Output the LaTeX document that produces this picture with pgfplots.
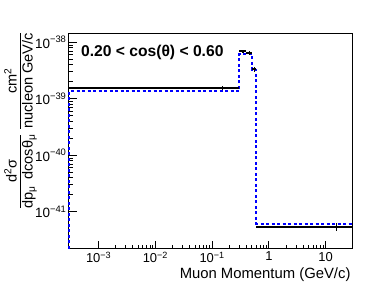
\documentclass[border=0pt]{standalone}
\usepackage{pgfplots}
\pgfplotsset{compat=1.18}
\usepackage{fontspec}
\setmainfont{Liberation Sans}
\newcommand\ffrac[2]{{\setlength{\arrayrulewidth}{1.6bp}\renewcommand{\arraystretch}{0.9}\begin{tabular}{@{}c@{}}#1\\[-1bp]\hline \rule{0pt}{11.5bp}#2\end{tabular}}}
\begin{document}
\begin{tikzpicture}
\begin{axis}[
  scale only axis,
  width=283.7bp, height=215.2bp,
  xmode=log, ymode=log,
  xmin=3e-4, xmax=30,
  ymin=2.24e-42, ymax=1.445e-38,
  clip=false,
  axis line style={line width=1bp},
  tick pos=left,
  tick align=inside,
  major tick length=8bp,
  minor tick length=4bp,
  every tick/.style={black, line width=0.8bp},
  xtick={1e-3,1e-2,1e-1,1,10},
  xticklabels={10\textsuperscript{−3},10\textsuperscript{−2},10\textsuperscript{−1},1,10},
  ytick={1e-41,1e-40,1e-39,1e-38},
  yticklabels={10\textsuperscript{−41},10\textsuperscript{−40},10\textsuperscript{−39},10\textsuperscript{−38}},
  xticklabel style={font=\fontsize{13}{13}\selectfont},
  yticklabel style={font=\fontsize{13.5}{13.5}\selectfont, xshift=1bp},
]
% MC prediction (blue dashed histogram)
\addplot[const plot, blue, line width=2bp, dash pattern=on 3bp off 2.5bp] coordinates {
  (3e-4,2.24e-42) (3e-4,1.37e-39) (0.3,6.2e-39) (0.4,6.2e-39) (0.5,3.24e-39) (0.6,6.2e-42) (30,6.2e-42)
};
% data (black horizontal bin lines)
\addplot[black, line width=2bp] coordinates {(3e-4,1.55e-39) (0.3,1.55e-39)};
\addplot[black, line width=2bp] coordinates {(0.3,7.0e-39) (0.4,7.0e-39)};
\addplot[black, line width=2bp] coordinates {(0.4,6.47e-39) (0.5,6.47e-39)};
\addplot[black, line width=2bp] coordinates {(0.5,3.37e-39) (0.6,3.37e-39)};
\addplot[black, line width=2bp] coordinates {(0.6,5.45e-42) (30,5.45e-42)};
% data error bars
\addplot[black, draw=none, mark=none,
  error bars/.cd, y dir=both, y explicit, error mark=none,
  error bar style={line width=1.2bp, solid}] coordinates {
  (0.15,1.55e-39) +- (0,0.12e-39)
  (0.35,7.0e-39) +- (0,0.45e-39)
  (0.45,6.47e-39) +- (0,0.45e-39)
  (0.55,3.37e-39) +- (0,0.35e-39)
  (15.3,5.45e-42) +- (0,0.9e-42)
};
\node[anchor=base west, font=\fontsize{15.7}{15.7}\selectfont\bfseries, inner sep=0]
  at (axis description cs:0.042,0.891) {0.20 < cos(θ) < 0.60};
\node[anchor=base east, font=\fontsize{14.9}{14.9}\selectfont, inner sep=0]
  at (axis description cs:0.993,-0.1385) {Muon Momentum (GeV/c)};
\node[rotate=90, anchor=south east, inner sep=0, font=\fontsize{14.6}{14.6}\selectfont]
  at (axis description cs:-0.113,1.002) {\ffrac{d\textsuperscript{2}σ}{dp\textsubscript{μ}\hspace{6bp}dcosθ\textsubscript{μ}}\hspace{6bp}\ffrac{cm\textsuperscript{2}}{nucleon GeV/c}};
\end{axis}
\pgfresetboundingbox
\path[use as bounding box] (current axis.south west) ++(-69bp,-34.5bp) rectangle ([xshift=34.3bp,yshift=33.3bp]current axis.north east);
\end{tikzpicture}
\end{document}
